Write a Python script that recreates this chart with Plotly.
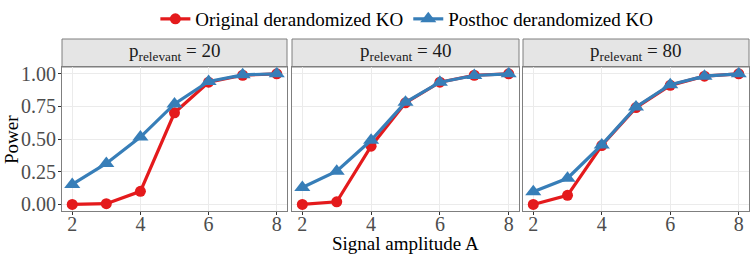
import plotly.graph_objects as go

amplitude = [2, 3, 4, 5, 6, 7, 8]
panels = ["20", "40", "80"]
original = {
    "20": [0.00, 0.006, 0.10, 0.70, 0.934, 0.987, 0.998],
    "40": [0.00, 0.02, 0.445, 0.776, 0.934, 0.987, 0.998],
    "80": [0.00, 0.07, 0.45, 0.74, 0.91, 0.98, 0.998],
}
posthoc = {
    "20": [0.153, 0.313, 0.515, 0.768, 0.94, 0.99, 0.998],
    "40": [0.13, 0.254, 0.49, 0.78, 0.934, 0.985, 0.998],
    "80": [0.097, 0.20, 0.455, 0.745, 0.915, 0.98, 0.998],
}
series_names = ["Original derandomized KO", "Posthoc derandomized KO"]
y_ticks = [0, 0.25, 0.5, 0.75, 1.0]
y_ticklabels = ["0.00", "0.25", "0.50", "0.75", "1.00"]
x_ticks = [2, 4, 6, 8]
x_title = "Signal amplitude A"
y_title = "Power"

RED = "#E41A1C"
BLUE = "#377EB8"
FONT = "Liberation Serif"

W, H = 753, 261
ml, mr, mt, mb = 62, 4, 67, 50
pw = W - ml - mr
ph = H - mt - mb
px_domains = [(62, 287), (292, 519), (523, 749)]

fig = go.Figure()
for i, p in enumerate(panels):
    ax = "" if i == 0 else str(i + 1)
    fig.add_trace(go.Scatter(
        x=amplitude, y=original[p], mode="lines+markers",
        name=series_names[0], legendgroup="o", showlegend=(i == 0),
        line=dict(color=RED, width=3.2),
        marker=dict(symbol="circle", size=11, color=RED),
        xaxis="x" + ax, yaxis="y" + ax,
    ))
    fig.add_trace(go.Scatter(
        x=amplitude, y=posthoc[p], mode="lines+markers",
        name=series_names[1], legendgroup="p", showlegend=(i == 0),
        line=dict(color=BLUE, width=3.2),
        marker=dict(symbol="triangle-up", size=14, color=BLUE),
        xaxis="x" + ax, yaxis="y" + ax,
    ))

layout = dict(
    width=W, height=H,
    margin=dict(l=ml, r=mr, t=mt, b=mb, autoexpand=False),
    paper_bgcolor="white", plot_bgcolor="white",
    font=dict(family=FONT, size=19, color="#4D4D4D"),
    legend=dict(orientation="h", x=0.502, xanchor="center", y=1.0, yanchor="top",
                yref="container", font=dict(family=FONT, size=19, color="black"),
                tracegroupgap=0),
    shapes=[], annotations=[],
)

for i, p in enumerate(panels):
    ax = "" if i == 0 else str(i + 1)
    x0, x1 = px_domains[i]
    d0 = (x0 - ml) / pw
    d1 = (x1 - ml) / pw
    layout["xaxis" + ax] = dict(
        domain=[d0, d1], range=[1.7, 8.3], tickvals=x_ticks,
        showgrid=True, gridcolor="#EBEBEB", gridwidth=1,
        zeroline=False, showline=True, linecolor="#7F7F7F", linewidth=1, mirror=True,
        ticks="outside", ticklen=3, tickcolor="#333333",
        tickfont=dict(family=FONT, size=20, color="#4D4D4D"),
        ticklabelstandoff=-8,
        anchor="y" + ax, automargin=False,
    )
    layout["yaxis" + ax] = dict(
        domain=[0, 1], range=[-0.05, 1.05], tickvals=y_ticks,
        ticktext=y_ticklabels,
        showticklabels=(i == 0),
        showgrid=True, gridcolor="#EBEBEB", gridwidth=1,
        zeroline=False, showline=True, linecolor="#7F7F7F", linewidth=1, mirror=True,
        ticks="outside" if i == 0 else "", ticklen=3, tickcolor="#333333",
        tickfont=dict(family=FONT, size=20, color="#4D4D4D"),
        ticklabelstandoff=-2,
        anchor="x" + ax, automargin=False,
    )
    layout["shapes"].append(dict(
        type="rect", xref="paper", yref="paper",
        x0=d0, x1=d1, y0=1.0, y1=1.0 + 28 / ph,
        fillcolor="#E5E5E5", line=dict(color="#7F7F7F", width=1), layer="below",
    ))
    layout["annotations"].append(dict(
        xref="paper", yref="paper", x=(d0 + d1) / 2, y=1.0 + 15 / ph,
        text="p<sub>relevant</sub> = " + p, showarrow=False,
        xanchor="center", yanchor="middle",
        font=dict(family=FONT, size=19, color="#1A1A1A"),
    ))

# axis titles
layout["annotations"].append(dict(
    xref="paper", yref="paper", x=(405 - ml) / pw, y=-(243 - (mt + ph)) / ph,
    text=x_title, showarrow=False, xanchor="center", yanchor="middle",
    font=dict(family=FONT, size=19, color="black"),
))
layout["annotations"].append(dict(
    xref="paper", yref="paper", x=-(ml - 11) / pw, y=(mt + ph - 139) / ph,
    text=y_title, showarrow=False, xanchor="center", yanchor="middle", textangle=-90,
    font=dict(family=FONT, size=19, color="black"),
))

fig.update_layout(**layout)
fig.write_html("out.html", config={"displayModeBar": False},
               post_script="document.body.style.margin='0px';document.body.style.padding='0px';")
